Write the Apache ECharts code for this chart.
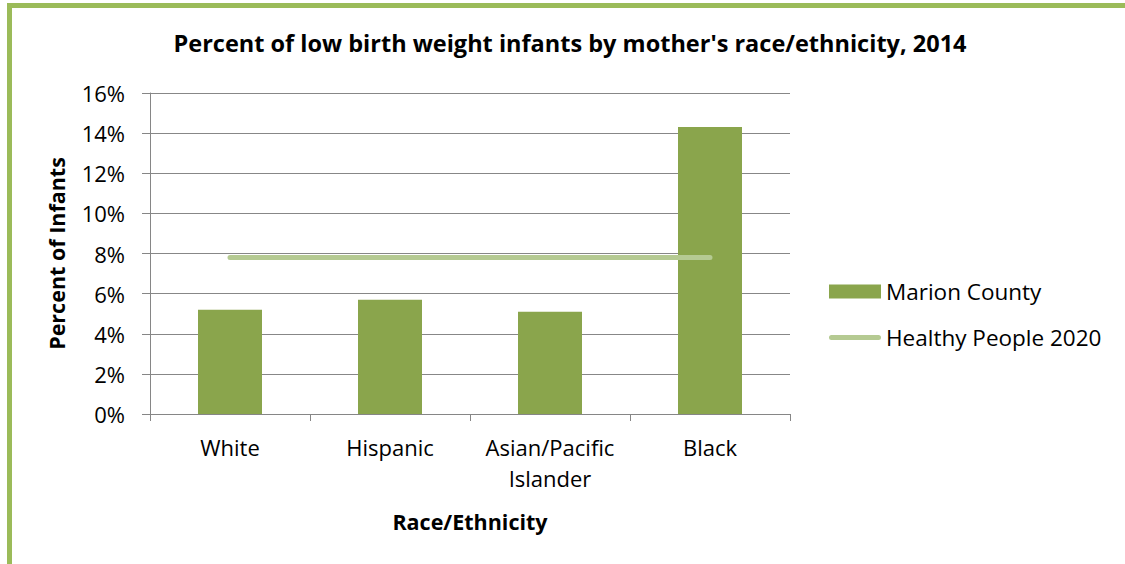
<!DOCTYPE html>
<html>
<head>
<meta charset="utf-8">
<script src="https://cdn.jsdelivr.net/npm/echarts@6/dist/echarts.min.js"></script>
<style>
html,body{margin:0;padding:0;background:#fff;}
#wrap{position:relative;width:1125px;height:564px;overflow:hidden;background:#fff;}
#frame{position:absolute;left:7px;top:3px;width:1300px;height:700px;border-top:5px solid #9bbb59;border-left:5px solid #9bbb59;box-sizing:border-box;}
#chart{position:absolute;left:0;top:0;width:1125px;height:564px;}
</style>
</head>
<body>
<div id="wrap">
<div id="chart"></div>
<div id="frame"></div>
</div>
<script>
const titleText = "Percent of low birth weight infants by mother's race/ethnicity, 2014";
const categories = ["White", "Hispanic", "Asian/Pacific\nIslander", "Black"];
const marionCounty = [5.2, 5.7, 5.1, 14.3];
const healthyPeople2020 = [7.8, 7.8, 7.8, 7.8];
const seriesNames = ["Marion County", "Healthy People 2020"];
const yAxisName = "Percent of Infants";
const xAxisName = "Race/Ethnicity";

const FONT = "'Open Sans', 'Noto Sans', sans-serif";
const chart = echarts.init(document.getElementById('chart'), null, {renderer: 'svg'});
chart.setOption({
  animation: false,
  textStyle: {fontFamily: FONT},
  title: {
    text: titleText,
    left: 570, top: 28, textAlign: 'center', padding: 0,
    textStyle: {fontFamily: FONT, fontSize: 23.5, fontWeight: 'bold', color: '#000', lineHeight: 30}
  },
  grid: {left: 150, top: 93, right: 335, bottom: 150, containLabel: false},
  legend: {
    orient: 'vertical', left: 829, top: 277, itemWidth: 52, itemHeight: 14, itemGap: 17, padding: 0,
    textStyle: {fontFamily: FONT, fontSize: 22.5, color: '#000', lineHeight: 29},
    data: [
      {name: seriesNames[0], icon: 'rect'},
      {name: seriesNames[1], icon: 'path://M2.5,0 L49.5,0 A2.5,2.5 0 0 1 49.5,5 L2.5,5 A2.5,2.5 0 0 1 2.5,0 Z'}
    ]
  },
  xAxis: {
    type: 'category', data: categories,
    name: xAxisName, nameLocation: 'middle', nameGap: 93,
    nameTextStyle: {fontFamily: FONT, fontSize: 21.5, fontWeight: 'bold', color: '#000', lineHeight: 28},
    axisLine: {lineStyle: {color: '#868686', width: 1}},
    axisTick: {show: true, length: 7, lineStyle: {color: '#868686'}},
    axisLabel: {fontFamily: FONT, fontSize: 22, color: '#000', margin: 17, lineHeight: 31, interval: 0}
  },
  yAxis: {
    type: 'value', min: 0, max: 16, interval: 2,
    name: yAxisName, nameLocation: 'middle', nameGap: 76, nameRotate: 90,
    nameTextStyle: {fontFamily: FONT, fontSize: 21.5, fontWeight: 'bold', color: '#000', lineHeight: 28},
    axisLine: {show: true, lineStyle: {color: '#868686', width: 1}},
    axisTick: {show: true, length: 8, lineStyle: {color: '#868686'}},
    axisLabel: {fontFamily: FONT, fontSize: 22, color: '#000', margin: 25, formatter: '{value}%'},
    splitLine: {show: true, lineStyle: {color: '#878787', width: 1}}
  },
  series: [
    {
      name: seriesNames[0], type: 'bar', data: marionCounty, barWidth: '40%',
      itemStyle: {color: '#8aa54c'}
    },
    {
      name: seriesNames[1], type: 'line', data: healthyPeople2020, symbol: 'none', showSymbol: false,
      lineStyle: {color: '#b5ca92', width: 5, cap: 'round'},
      itemStyle: {color: '#b5ca92'}, z: 3
    }
  ]
});
</script>
</body>
</html>
